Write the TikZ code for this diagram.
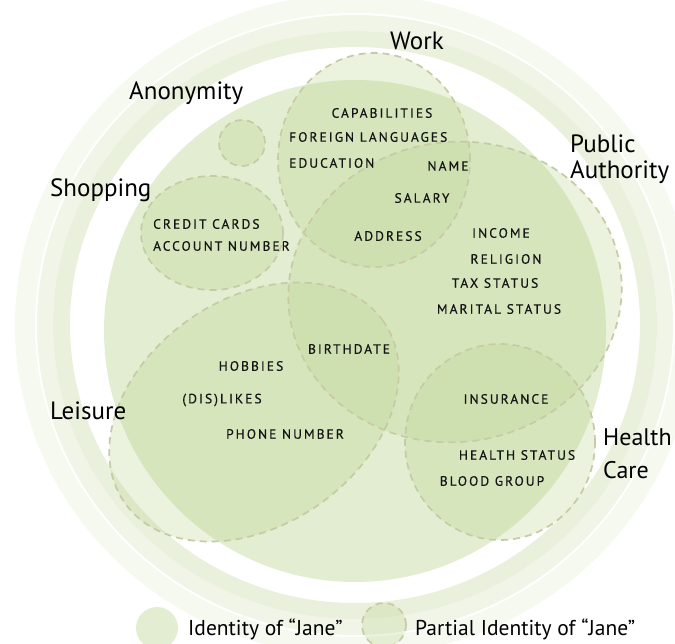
\documentclass[tikz,border=0pt]{standalone}
\usepackage{fontspec}
\setmainfont{PT Sans}
\newfontfamily\itemfont[LetterSpace=15,FakeBold=0.4]{PT Sans}
\definecolor{ringA}{RGB}{233,240,220}
\definecolor{ringB}{RGB}{240,245,231}
\definecolor{ringC}{RGB}{246,249,240}
\definecolor{mainfill}{RGB}{227,237,209}
\definecolor{partfill}{RGB}{188,213,146}
\definecolor{dashcol}{RGB}{198,203,164}
\begin{document}
\begin{tikzpicture}[x=1pt,y=-1pt,
  lbl/.style={font=\fontsize{25}{29}\selectfont, text=black, inner sep=0pt, anchor=west},
  itm/.style={font=\itemfont\fontsize{13.5}{16}\selectfont, text=black!92, inner sep=0pt},
  leg/.style={font=\fontsize{21.5}{25}\selectfont, text=black, inner sep=0pt, anchor=west},
  part/.style={fill=partfill, fill opacity=0.3},
  pline/.style={draw=dashcol, line width=1.7pt, dash pattern=on 7pt off 5pt}]
\useasboundingbox (0,0) rectangle (675,644);
\clip (0,0) rectangle (675,644);
% background rings
\fill[ringC, even odd rule] (355,325) ellipse (340pt and 331pt) (355,325) ellipse (320pt and 312pt);
\fill[ringB, even odd rule] (355,325) ellipse (318pt and 310pt) (355,325) ellipse (302pt and 294pt);
\fill[ringA, even odd rule] (355,325) ellipse (302pt and 294pt) (355,325) ellipse (285pt and 278pt);
% identity of Jane
\fill[mainfill] (355,331) circle (251pt);
% partial identities: fills
\path[part] (374,160) ellipse (96pt and 107pt);
\path[part, rotate around={8:(455,292)}] (455,292) ellipse (167pt and 150pt);
\path[part] (212,233) ellipse (71pt and 57pt);
\path[part] (242,143) circle (23pt);
\path[part, rotate around={35:(254,412)}] (254,412) ellipse (158pt and 113pt);
\path[part] (500,442) ellipse (95pt and 98pt);
% partial identities: borders
\path[pline] (374,160) ellipse (96pt and 107pt);
\path[pline, rotate around={8:(455,292)}] (455,292) ellipse (167pt and 150pt);
\path[pline] (212,233) ellipse (71pt and 57pt);
\path[pline] (242,143) circle (23pt);
\path[pline, rotate around={35:(254,412)}] (254,412) ellipse (158pt and 113pt);
\path[pline] (500,442) ellipse (95pt and 98pt);
% labels
\node[lbl] (work) at (390,41) {Work};
\node[lbl] (anon) at (129,93) {Anonymity};
\node[lbl] (public) at (570,144) {Public};
\node[lbl] (authority) at (570,172) {Authority};
\node[lbl] (shopping) at (50,190) {Shopping};
\node[lbl] (leisure) at (50,411) {Leisure};
\node[lbl, font=\fontsize{24}{28}\selectfont] (health) at (603,437) {Health};
\node[lbl, font=\fontsize{24}{28}\selectfont] (care) at (603,470) {Care};
% items
\node[itm] (capab) at (382,113) {CAPABILITIES};
\node[itm, anchor=west] (foreign) at (289,137) {FOREIGN LANGUAGES};
\node[itm, anchor=west] (educ) at (289,163) {EDUCATION};
\node[itm] (name) at (448,166) {NAME};
\node[itm] (salary) at (422,198) {SALARY};
\node[itm] (address) at (388,236) {ADDRESS};
\node[itm] (income) at (501,233) {INCOME};
\node[itm, anchor=west] (credit) at (153,224) {CREDIT CARDS};
\node[itm, anchor=west] (account) at (153,246) {ACCOUNT NUMBER};
\node[itm] (religion) at (506,259) {RELIGION};
\node[itm] (tax) at (495,283) {TAX STATUS};
\node[itm] (marital) at (499,309) {MARITAL STATUS};
\node[itm] (birth) at (349,349) {BIRTHDATE};
\node[itm] (hobbies) at (251,366) {HOBBIES};
\node[itm] (likes) at (222,400) {(DIS)LIKES};
\node[itm] (insurance) at (506,399) {INSURANCE};
\node[itm] (phone) at (285,434) {PHONE NUMBER};
\node[itm] (hstatus) at (517,455) {HEALTH STATUS};
\node[itm] (blood) at (492,481) {BLOOD GROUP};
% legend
\fill[mainfill] (157,628) circle (21pt);
\node[leg] (legid) at (188,629) {Identity of “Jane”};
\path[part] (384,625) circle (22pt);
\path[pline] (384,625) circle (22pt);
\node[leg] (legpart) at (415,629) {Partial Identity of “Jane”};
\end{tikzpicture}
\end{document}
